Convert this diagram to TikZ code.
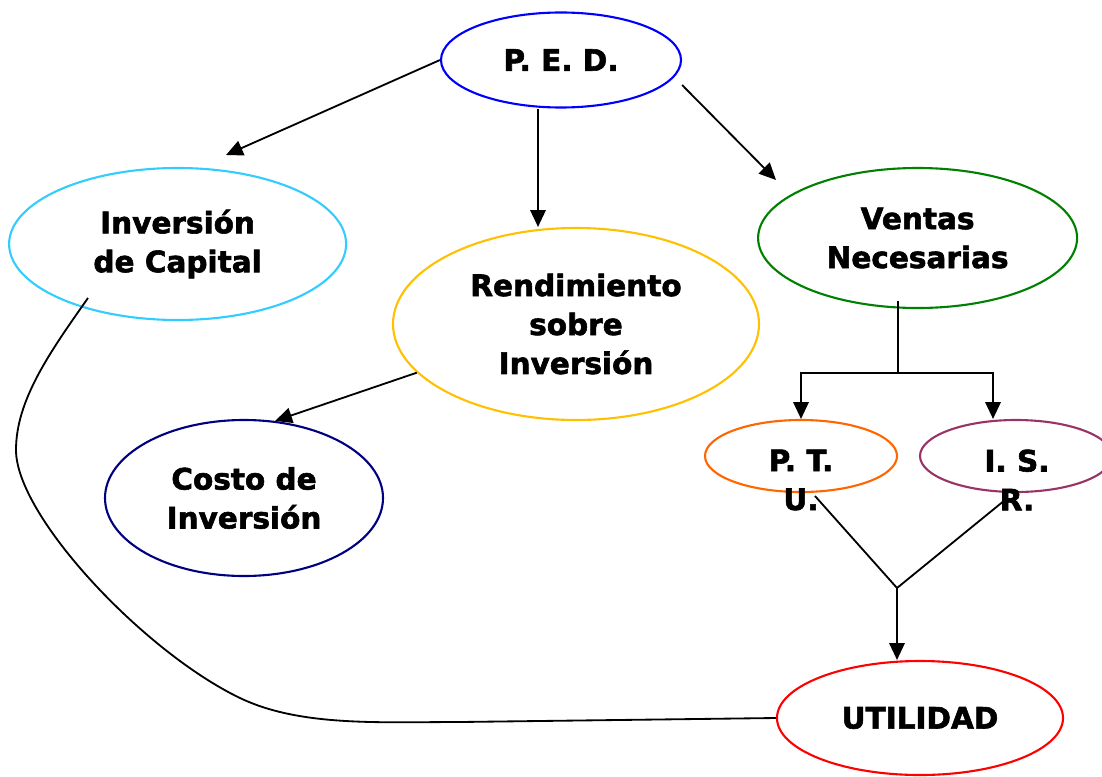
\documentclass[tikz,border=0pt]{standalone}
\usepackage{fontspec}
\setmainfont{DejaVu Sans}[BoldFeatures={FakeBold=2}]
\usepackage{xcolor}
\usepackage{tikz}
\usetikzlibrary{shapes,arrows.meta,calc}

\definecolor{pedblue}{HTML}{0000FF}
\definecolor{capcyan}{HTML}{33CCFF}
\definecolor{rendgold}{HTML}{FFC000}
\definecolor{ventgreen}{HTML}{008000}
\definecolor{costnavy}{HTML}{000080}
\definecolor{ptuorange}{HTML}{FF6600}
\definecolor{isrplum}{HTML}{993366}
\definecolor{utilred}{HTML}{FF0000}

\begin{document}
\begin{tikzpicture}[->, >={Triangle[length=12pt,width=11pt]}, line width=1.3pt, inner sep=2pt,
  every node/.style={font=\fontsize{21}{27.7}\selectfont\bfseries, align=center},
  bubble/.style={ellipse, draw, line width=1.5pt}]

\useasboundingbox (0,0) rectangle (27.55,-19.4);

\node[bubble, draw=pedblue, minimum width=6cm, minimum height=2.375cm] (ped) at (14.025,-1.5) {P. E. D.};
\node[bubble, draw=capcyan, minimum width=8.425cm, minimum height=3.8cm] (cap) at (4.44,-6.1) {Inversión\\de Capital};
\node[bubble, draw=rendgold, minimum width=9.15cm, minimum height=4.8cm] (rend) at (14.4,-8.1) {Rendimiento\\sobre\\Inversión};
\node[bubble, draw=ventgreen, minimum width=7.975cm, minimum height=3.5cm] (ventas) at (22.94,-5.95) {Ventas\\Necesarias};
\node[bubble, draw=costnavy, minimum width=6.95cm, minimum height=3.9cm] (costo) at (6.1,-12.45) {Costo de\\Inversión};
\node[bubble, draw=ptuorange, minimum width=4.8cm, minimum height=1.8cm] (ptu) at (20.025,-11.4) {};
\node[bubble, draw=isrplum, minimum width=4.8cm, minimum height=1.8cm] (isr) at (25.4,-11.4) {};
\node[bubble, draw=utilred, minimum width=7.15cm, minimum height=2.85cm] (util) at (23,-17.95) {UTILIDAD};

\node (ptutext) at (20.025,-12.0) {P. T.\\U.};
\node (isrtext) at (25.425,-12.0) {I. S.\\R.};

% from P. E. D.
\draw (ped.west) -- (5.65,-3.875);
\draw ($(ped.south)+(-0.575,0)$) coordinate (p1) -- (p1 |- rend.north);
\draw ($(ped.east)+(0,-0.625)$) -- (19.4,-4.5);

\draw (rend.197) -- (costo.68);

% ventas splits
\draw[-] ($(ventas.south)+(-0.5,0.2)$) -- ++(0,-1.8) coordinate (j1);
\draw (j1) -| (ptu.north);
\draw (j1) -| ([xshift=-0.575cm]isr.north);

% both join into utilidad
\draw[-] (20.375,-12.4) -- (22.425,-14.7) coordinate (j2);
\draw[-] (25.125,-12.5) -- (j2);
\draw (j2) -- (j2 |- util.north);

\draw[-] (2.2,-7.45) .. controls (1.25,-8.8) and (0.4,-10) .. (0.4,-11.25)
  .. controls (0.4,-12.9) and (3.6,-16.3) .. (6,-17.45)
  .. controls (7.5,-18.17) and (9.5,-18.05) .. (11.5,-18.05) -- (util.west);
\end{tikzpicture}
\end{document}
